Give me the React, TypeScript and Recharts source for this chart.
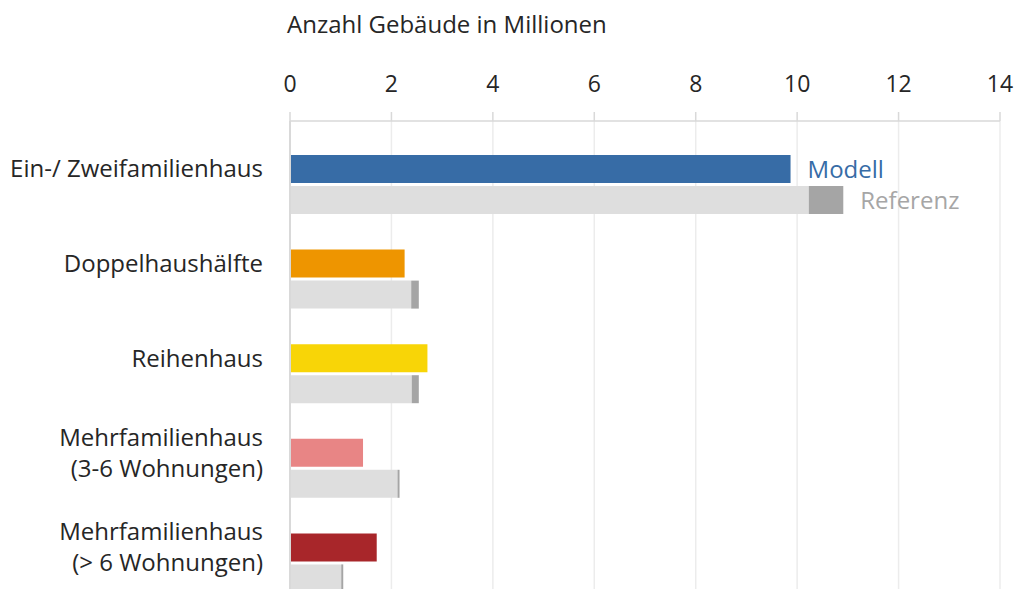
import { BarChart, Bar, XAxis, YAxis, CartesianGrid, Cell, LabelList } from "recharts";

const categories = [
  ["Ein-/ Zweifamilienhaus"],
  ["Doppelhaushälfte"],
  ["Reihenhaus"],
  ["Mehrfamilienhaus", "(3-6 Wohnungen)"],
  ["Mehrfamilienhaus", "(> 6 Wohnungen)"],
];
const modell = [9.87, 2.26, 2.71, 1.44, 1.71];
const referenzLow = [10.23, 2.39, 2.4, 2.12, 1.01];
const referenzHigh = [10.91, 2.54, 2.54, 2.16, 1.05];
const modellColors = ["#376ca6", "#ee9500", "#f8d507", "#e88585", "#a8262a"];
const xTicks = [0, 2, 4, 6, 8, 10, 12, 14];

const FONT = "'Open Sans', sans-serif";
const TEXT = "#262626";

const data = categories.map((lines, i) => ({
  name: lines.join("\n"),
  modell: modell[i],
  refLow: referenzLow[i],
  refDiff: +(referenzHigh[i] - referenzLow[i]).toFixed(2),
}));

function CategoryTick({ y, payload }: any) {
  const lines = String(payload.value).split("\n");
  const center = y - 15.5;
  const lh = 31;
  const start = center - ((lines.length - 1) * lh) / 2;
  return (
    <g>
      {lines.map((line, i) => (
        <text
          key={i}
          x={263}
          y={start + i * lh + 8.5}
          textAnchor="end"
          fontSize={24}
          fontFamily={FONT}
          fill={TEXT}
        >
          {line}
        </text>
      ))}
    </g>
  );
}

const endLabel = (text: string, color: string) => (props: any) => {
  const { x, y, width, height, index } = props;
  if (index !== 0) return null;
  return (
    <text
      x={x + width + 17}
      y={y + height / 2 + 8.5}
      fontSize={24}
      fontFamily={FONT}
      fill={color}
    >
      {text}
    </text>
  );
};

export default function App() {
  return (
    <div
      style={{
        position: "fixed",
        top: 0,
        left: 0,
        width: 1017,
        height: 589,
        overflow: "hidden",
        background: "#fff",
      }}
    >
      <BarChart
        width={1017}
        height={620}
        data={data}
        layout="vertical"
        margin={{ top: 81, right: 17, bottom: 10, left: 0 }}
        barSize={28}
        barGap={3}
      >
        <CartesianGrid horizontal={false} stroke="#ececec" strokeWidth={1.5} />
        <XAxis
          type="number"
          orientation="top"
          domain={[0, 14]}
          ticks={xTicks}
          height={40}
          tickSize={9}
          tickMargin={20}
          axisLine={{ stroke: "#d9d9d9", strokeWidth: 1.5 }}
          tickLine={{ stroke: "#d9d9d9", strokeWidth: 1.5 }}
          tick={{ fontSize: 23, fontFamily: FONT, fill: TEXT }}
          label={{
            content: () => (
              <text x={287} y={33} fontSize={24} fontFamily={FONT} fill={TEXT}>
                Anzahl Gebäude in Millionen
              </text>
            ),
          }}
        />
        <YAxis
          type="category"
          dataKey="name"
          width={290}
          padding={{ top: 16, bottom: 0 }}
          axisLine={{ stroke: "#d9d9d9", strokeWidth: 2 }}
          tickLine={false}
          tick={<CategoryTick />}
        />
        <Bar dataKey="modell" stackId="modell" isAnimationActive={false}>
          {data.map((_, i) => (
            <Cell key={i} fill={modellColors[i]} />
          ))}
          <LabelList dataKey="modell" content={endLabel("Modell", "#376ca6")} />
        </Bar>
        <Bar dataKey="refLow" stackId="ref" fill="#dedede" isAnimationActive={false} />
        <Bar dataKey="refDiff" stackId="ref" fill="#a5a5a5" isAnimationActive={false}>
          <LabelList dataKey="refDiff" content={endLabel("Referenz", "#a6a6a6")} />
        </Bar>
      </BarChart>
    </div>
  );
}
